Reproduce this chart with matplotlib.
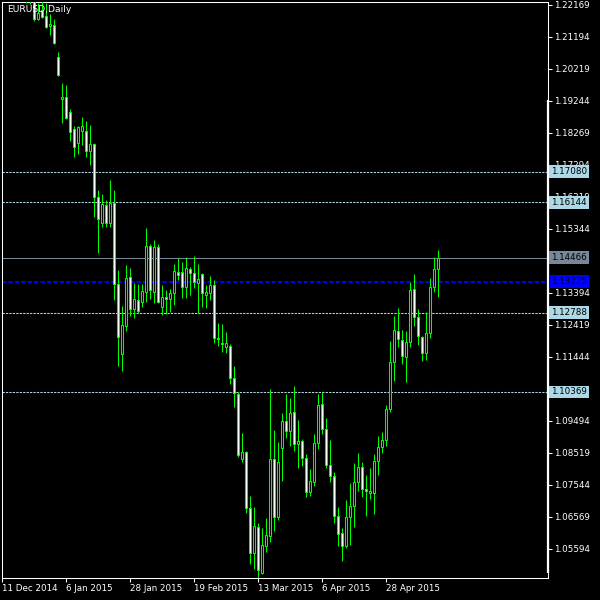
import matplotlib
matplotlib.use("Agg")
import matplotlib.pyplot as plt
import matplotlib.transforms as mtransforms

# EURUSD daily bars, index 0 = 11 Dec 2014
opens = [
    1.2410, 1.2440, 1.2465, 1.2440, 1.2510, 1.2340, 1.2290, 1.2235,
    1.2238, 1.21733, 1.22007, 1.21825, 1.21520, 1.21550, 1.20575, 1.19296,
    1.19357, 1.18899, 1.18384, 1.17955, 1.18321, 1.18321, 1.17714, 1.17925,
    1.16310, 1.15517, 1.16066, 1.15517, 1.16127, 1.13659, 1.11526, 1.12379,
    1.13872, 1.12897, 1.13171, 1.13110, 1.13415, 1.14817, 1.13415, 1.14786,
    1.12958, 1.13263, 1.13202, 1.13385, 1.14024, 1.14024, 1.13567, 1.14116,
    1.13994, 1.13689, 1.13963, 1.13324, 1.13385, 1.13628, 1.12014, 1.11861,
    1.11739, 1.11770, 1.10795, 1.10307, 1.08327, 1.08540, 1.06834, 1.05463,
    1.06255, 1.04853, 1.05676, 1.05981, 1.08327, 1.06560, 1.08662, 1.09485,
    1.09180, 1.09759, 1.08784, 1.08875, 1.08357, 1.07321, 1.07626, 1.08814,
    1.10003, 1.09241, 1.08144, 1.07809, 1.06590, 1.06072, 1.05676, 1.06560,
    1.06895, 1.07626, 1.08083, 1.07413, 1.07291, 1.07291, 1.08266, 1.08692,
    1.08906, 1.09850, 1.11282, 1.12227, 1.11953, 1.11435, 1.11892, 1.13506,
    1.12653, 1.12044, 1.11556, 1.12166, 1.13567, 1.14116,
]
highs = [
    1.2460, 1.2480, 1.2490, 1.2570, 1.2530, 1.2345, 1.2300, 1.2250,
    1.2250, 1.2222, 1.2229, 1.2222, 1.21885, 1.21733, 1.20728, 1.19783,
    1.19722, 1.18991, 1.18473, 1.18473, 1.18747, 1.18625, 1.18503, 1.17955,
    1.16523, 1.16401, 1.16218, 1.16828, 1.16523, 1.14085, 1.12989, 1.14238,
    1.14147, 1.13689, 1.13659, 1.13659, 1.15365, 1.14878, 1.15000, 1.14878,
    1.13628, 1.13476, 1.13506, 1.14268, 1.14451, 1.14329, 1.14481, 1.14177,
    1.14512, 1.14268, 1.13994, 1.13628, 1.13903, 1.13781, 1.12471, 1.12440,
    1.12196, 1.11831, 1.11160, 1.10368, 1.09119, 1.08571, 1.07199, 1.06864,
    1.06377, 1.06224, 1.06529, 1.10460, 1.09210, 1.08845, 1.09728, 1.10307,
    1.10185, 1.10551, 1.09515, 1.08936, 1.08479, 1.08022, 1.09088, 1.10307,
    1.10368, 1.09576, 1.08906, 1.07930, 1.06864, 1.06224, 1.07077, 1.07595,
    1.08205, 1.08510, 1.08235, 1.07839, 1.08052, 1.08479, 1.09027, 1.09149,
    1.09972, 1.11922, 1.12684, 1.12928, 1.12257, 1.12227, 1.13720, 1.13963,
    1.12897, 1.12075, 1.12806, 1.13841, 1.14481, 1.14695,
]
lows = [
    1.2360, 1.2400, 1.2430, 1.2410, 1.2330, 1.2280, 1.2222, 1.2219,
    1.21672, 1.21703, 1.21764, 1.21459, 1.21246, 1.20971, 1.19996, 1.18564,
    1.18686, 1.18016, 1.17528, 1.17620, 1.17894, 1.17528, 1.17285, 1.15700,
    1.14603, 1.15396, 1.15396, 1.15396, 1.13171, 1.11160, 1.11008, 1.12227,
    1.12684, 1.12623, 1.12775, 1.12958, 1.13110, 1.13202, 1.13080, 1.13080,
    1.12714, 1.12745, 1.12806, 1.13019, 1.13781, 1.13232, 1.13232, 1.13324,
    1.13537, 1.12775, 1.12958, 1.12928, 1.13171, 1.11861, 1.11770, 1.11587,
    1.11556, 1.10612, 1.09911, 1.08388, 1.08235, 1.06681, 1.05128, 1.04975,
    1.04670, 1.04823, 1.05493, 1.05798, 1.06133, 1.06468, 1.07656, 1.08967,
    1.08723, 1.08571, 1.08052, 1.08113, 1.07169, 1.07199, 1.07504, 1.08632,
    1.09088, 1.08052, 1.07626, 1.06377, 1.05676, 1.05219, 1.05615, 1.05706,
    1.06255, 1.07352, 1.07169, 1.06590, 1.07108, 1.06651, 1.07839, 1.08510,
    1.08723, 1.09759, 1.10703, 1.11739, 1.11221, 1.10673, 1.11739, 1.12379,
    1.11800, 1.11313, 1.11343, 1.12014, 1.13415, 1.13263,
]
closes = [
    1.2440, 1.2465, 1.2440, 1.2510, 1.2340, 1.2290, 1.2235, 1.2238,
    1.21733, 1.21916, 1.21794, 1.21489, 1.21581, 1.21002, 1.20027, 1.19357,
    1.18717, 1.18293, 1.17833, 1.18442, 1.18473, 1.17714, 1.17925, 1.16310,
    1.15639, 1.16096, 1.15517, 1.16127, 1.13659, 1.12044, 1.12410, 1.13842,
    1.12897, 1.13202, 1.12836, 1.13446, 1.14817, 1.13476, 1.14786, 1.13110,
    1.13263, 1.13202, 1.13385, 1.14055, 1.13933, 1.13567, 1.14147, 1.13994,
    1.13720, 1.13811, 1.13385, 1.13415, 1.13628, 1.12014, 1.11983, 1.11831,
    1.11861, 1.10795, 1.10338, 1.08449, 1.08540, 1.06834, 1.05463, 1.06285,
    1.04945, 1.05706, 1.06011, 1.08327, 1.06560, 1.08235, 1.09485, 1.09180,
    1.09728, 1.08784, 1.08875, 1.08357, 1.07321, 1.07656, 1.08814, 1.09972,
    1.09241, 1.08144, 1.07809, 1.06590, 1.06042, 1.05676, 1.06560, 1.06895,
    1.07626, 1.08083, 1.07413, 1.07352, 1.07352, 1.08266, 1.08692, 1.08906,
    1.09850, 1.11282, 1.12257, 1.11983, 1.11465, 1.11892, 1.13476, 1.12653,
    1.12075, 1.11556, 1.12166, 1.13567, 1.14116, 1.14466,
]

date_ticks = [0, 16, 32, 48, 64, 80, 96]
date_labels = ["11 Dec 2014", "6 Jan 2015", "28 Jan 2015", "19 Feb 2015",
               "13 Mar 2015", "6 Apr 2015", "28 Apr 2015"]

price_ticks = [1.22169, 1.21194, 1.20219, 1.19244, 1.18269, 1.17294, 1.16319,
               1.15344, 1.14369, 1.13394, 1.12419, 1.11444, 1.10469, 1.09494,
               1.08519, 1.07544, 1.06569, 1.05594]
# this one sits fully under the 1.10369 box
hidden_ticks = [1.10469]

levels = [1.17080, 1.16144, 1.12788, 1.10369]
bid_price = 1.14466
blue_level = 1.13725

LEVEL_COL = "#add8e6"
BID_COL = "#778899"
GREEN = "#00ff00"


def plot_chart(output):
    fig = plt.figure(figsize=(6, 6), dpi=100, facecolor="black")
    ax = fig.add_axes([2 / 600, 22 / 600, 546 / 600, 576 / 600])
    ax.set_facecolor("black")

    n = len(closes)
    xs = list(range(n))
    # wicks
    ax.vlines(xs, lows, highs, color=GREEN, linewidth=0.75, zorder=3)
    # bodies
    for i in range(n):
        o, c = opens[i], closes[i]
        fc = "white" if c < o else "black"
        ax.bar(i, c - o, bottom=o, width=0.5, color=fc, edgecolor=GREEN,
               linewidth=0.75, zorder=4)

    # horizontal levels
    for lv in levels:
        ax.axhline(lv, color=LEVEL_COL, linewidth=0.75, dashes=(2.2, 1.1),
                   zorder=2)
    ax.axhline(bid_price, color=BID_COL, linewidth=0.75, zorder=2)
    ax.axhline(blue_level, color="#0000ff", linewidth=1.4, dashes=(2.2, 1.1),
               zorder=2)

    ax.set_xlim(-0.1, 136.4)
    ax.set_ylim(1.04701, 1.22251)

    for s in ax.spines.values():
        s.set_color("white")
        s.set_linewidth(0.75)

    ax.yaxis.tick_right()
    ax.set_yticks(price_ticks)
    ax.set_yticklabels(["" if p in hidden_ticks else f"{p:.5f}"
                        for p in price_ticks])
    ax.tick_params(axis="y", colors="white", labelsize=6.3, length=3,
                   width=0.75, pad=1.5)
    ax.set_xticks(date_ticks)
    ax.set_xticklabels(date_labels)
    ax.tick_params(axis="x", colors="white", labelsize=6.3, length=3,
                   width=0.75, pad=1.5)
    for lab in ax.get_xticklabels():
        lab.set_horizontalalignment("left")

    # thick part of the right border
    ax.plot([1.0, 1.0], [(578 - 573) / 576, (578 - 100) / 576],
            transform=ax.transAxes, color="white", linewidth=1.6,
            clip_on=False, zorder=6, solid_capstyle="butt")

    # price boxes on the scale
    trans = mtransforms.blended_transform_factory(ax.transAxes, ax.transData)
    boxes = [(lv, LEVEL_COL) for lv in levels]
    boxes += [(bid_price, BID_COL), (blue_level, "#0000ff")]
    for p, col in boxes:
        ax.text(1.0 + 3 / 546, p, f"{p:.5f}", transform=trans, color="black",
                fontsize=6.3, va="center", ha="left", zorder=10,
                clip_on=False,
                bbox=dict(boxstyle="square,pad=0.22", facecolor=col,
                          edgecolor="none"))

    ax.text(4.7 / 546, 1 - 3 / 576, "EURUSD,Daily", transform=ax.transAxes,
            color="white", fontsize=6.6, va="top", ha="left", zorder=8)

    fig.savefig(output, dpi=100, facecolor="black")


plot_chart("out.png")
